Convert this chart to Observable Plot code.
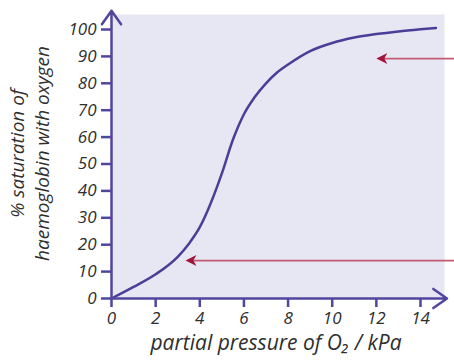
<!DOCTYPE html>
<html>
<head>
<meta charset="utf-8">
<script src="https://cdn.jsdelivr.net/npm/d3@7"></script>
<script src="https://cdn.jsdelivr.net/npm/@observablehq/plot@0.6"></script>
<style>
  html, body { margin: 0; padding: 0; background: #ffffff; }
  g[aria-label="y-axis tick label"], g[aria-label="x-axis tick label"] {
    font-size: 17px; font-style: italic; font-family: 'Open Sans', sans-serif;
  }
</style>
</head>
<body>
<div id="chart"></div>
<script>
// Oxygen dissociation curve
const pressure   = [0, 1, 2, 3, 3.5, 4, 4.5, 5, 5.5, 6, 6.5, 7, 7.5, 8, 9, 10, 11, 12, 13, 14, 14.7];
const saturation = [0, 4.3, 9, 15.5, 20.3, 26.5, 35.5, 46.5, 59, 68.5, 75, 80, 84, 87, 92, 95, 97, 98.3, 99.3, 100.1, 100.6];

const xTicks = [0, 2, 4, 6, 8, 10, 12, 14];
const yTicks = [0, 10, 20, 30, 40, 50, 60, 70, 80, 90, 100];

// annotation arrows (pointing left at the curve)
const arrowSat   = [89.2, 14.1];
const arrowTipX  = [12.0, 3.35];
const arrowTailX = [15.6, 15.6];

const xLabel = "partial pressure of O₂ / kPa";
const yLabel = "% saturation of\nhaemoglobin with oxygen";

const curveData = pressure.map((p, i) => ({p, s: saturation[i]}));
const arrowData = arrowSat.map((s, i) => ({s, tip: arrowTipX[i], tail: arrowTailX[i]}));

const axisColor = "#51459d";
const curveColor = "#4a3e98";
const textColor = "#2e2e2e";

// concave arrowhead pointing left, tip at origin
const headSymbol = {
  draw(context, size) {
    const r = Math.sqrt(size / Math.PI);
    const L = r * 2, H = r;
    context.moveTo(0, 0);
    context.lineTo(L, -H);
    context.lineTo(L * 0.72, 0);
    context.lineTo(L, H);
    context.closePath();
  }
};

const chart = Plot.plot({
  width: 454,
  height: 362,
  marginLeft: 111,
  marginRight: 10,
  marginTop: 14,
  marginBottom: 64,
  x: {domain: [0, 14], range: [111, 420]},
  y: {domain: [0, 100], range: [298, 29]},
  style: {
    fontFamily: "'Open Sans', sans-serif",
    fontStyle: "italic",
    fontSize: "16px",
    color: textColor,
    background: "#ffffff"
  },
  marks: [
    Plot.frame({fill: "#e7e7f3", stroke: null}),
    Plot.line(curveData, {x: "p", y: "s", stroke: curveColor, strokeWidth: 2.5, curve: "monotone-x"}),
    Plot.link(arrowData, {x1: "tail", x2: "tip", y1: "s", y2: "s", stroke: "#c25a74", strokeWidth: 1.8, dx: 6}),
    Plot.dot(arrowData, {x: "tip", y: "s", symbol: headSymbol, r: 5.5, fill: "#a3143b", stroke: null}),
    Plot.axisY({ticks: yTicks, tickSize: 10, tickPadding: 5, stroke: axisColor, strokeWidth: 2.5, fill: textColor, label: null}),
    Plot.axisX({ticks: xTicks, tickSize: 9, tickPadding: 4, stroke: axisColor, strokeWidth: 2.5, fill: textColor, label: null}),
    Plot.arrow([0], {x1: 0, y1: 0, x2: 0, y2: 107, stroke: axisColor, strokeWidth: 2.5, headLength: 10, headAngle: 70}),
    Plot.arrow([0], {x1: 0, y1: 0, x2: 15.2, y2: 0, stroke: axisColor, strokeWidth: 2.5, headLength: 10, headAngle: 70}),
    Plot.text([xLabel], {text: d => d, frameAnchor: "bottom", dx: -2, dy: 51, fontSize: 21, fill: textColor}),
    Plot.text([yLabel], {text: d => d, frameAnchor: "left", textAnchor: "middle", rotate: -90, dx: -83, dy: -3, fontSize: 19, lineHeight: 1.3, fill: textColor})
  ]
});
document.getElementById("chart").appendChild(chart);
</script>
</body>
</html>
